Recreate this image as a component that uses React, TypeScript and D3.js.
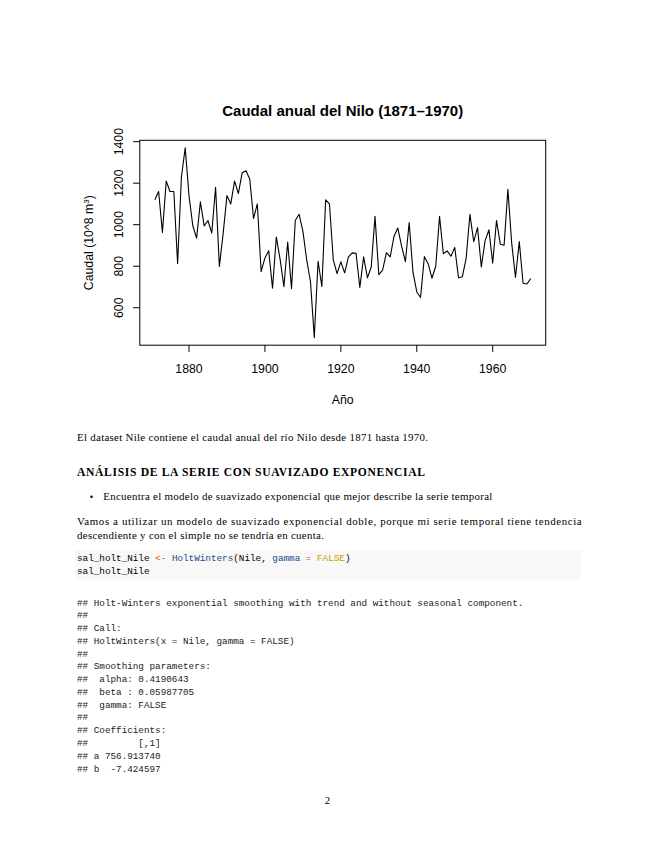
import React from "react";
import * as d3 from "d3";

const startYear = 1871;
const nileFlow = [
  1120, 1160, 963, 1210, 1160, 1160, 813, 1230, 1370, 1140,
  995, 935, 1110, 994, 1020, 960, 1180, 799, 958, 1140,
  1100, 1210, 1150, 1250, 1260, 1220, 1030, 1100, 774, 840,
  874, 694, 940, 833, 701, 916, 692, 1020, 1050, 969,
  831, 726, 456, 824, 702, 1120, 1100, 832, 764, 821,
  768, 845, 864, 862, 698, 845, 744, 796, 1040, 759,
  781, 865, 845, 944, 984, 897, 822, 1010, 771, 676,
  649, 846, 812, 742, 801, 1040, 860, 874, 848, 890,
  744, 749, 838, 1050, 918, 986, 797, 923, 975, 815,
  1020, 906, 901, 1170, 912, 746, 919, 718, 714, 740,
];
const xTicks = [1880, 1900, 1920, 1940, 1960];
const yTicks = [600, 800, 1000, 1200, 1400];

const outputLines = [
  "## Holt-Winters exponential smoothing with trend and without seasonal component.",
  "##",
  "## Call:",
  "## HoltWinters(x = Nile, gamma = FALSE)",
  "##",
  "## Smoothing parameters:",
  "##  alpha: 0.4190643",
  "##  beta : 0.05987705",
  "##  gamma: FALSE",
  "##",
  "## Coefficients:",
  "##         [,1]",
  "## a 756.913740",
  "## b  -7.424597",
];

export default function App() {
  const years = nileFlow.map((_, i) => startYear + i);
  const xMin = d3.min(years)!, xMax = d3.max(years)!;
  const yMin = d3.min(nileFlow)!, yMax = d3.max(nileFlow)!;
  const xPad = (xMax - xMin) * 0.04, yPad = (yMax - yMin) * 0.04;
  const L = 139.8, R = 545.7, T = 140.3, B = 345.2;
  const x = d3.scaleLinear().domain([xMin - xPad, xMax + xPad]).range([L, R]);
  const y = d3.scaleLinear().domain([yMin - yPad, yMax + yPad]).range([B, T]);
  const line = d3.line<number>().x((_, i) => x(years[i])).y((d) => y(d));

  const sans = "'Liberation Sans', Arial, Helvetica, sans-serif";
  const serif = "'Liberation Serif', 'Times New Roman', serif";
  const mono = "'Liberation Mono', 'DejaVu Sans Mono', monospace";
  const tickLen = 6.7;
  const fs = 12.3;
  const bodyFs = 10.9;
  const monoFs = 9.3;

  return (
    <svg width={655} height={848} style={{ position: "absolute", left: 0, top: 0, background: "#fff" }}>
      <rect x={0} y={0} width={655} height={848} fill="#fff" />
      {/* Chart */}
      <text x={(L + R) / 2} y={115.5} textAnchor="middle" fontFamily={sans} fontWeight="bold" fontSize={15} fill="#000">
        Caudal anual del Nilo (1871–1970)
      </text>
      <path d={line(nileFlow) || ""} fill="none" stroke="#000" strokeWidth={1.1} strokeLinejoin="round" />
      <rect x={L} y={T} width={R - L} height={B - T} fill="none" stroke="#000" strokeWidth={1} />
      {xTicks.map((t) => (
        <g key={"x" + t}>
          <line x1={x(t)} x2={x(t)} y1={B} y2={B + tickLen} stroke="#000" strokeWidth={1} />
          <text x={x(t)} y={372.8} textAnchor="middle" fontFamily={sans} fontSize={fs} fill="#000">{t}</text>
        </g>
      ))}
      {yTicks.map((t) => (
        <g key={"y" + t}>
          <line x1={L - tickLen} x2={L} y1={y(t)} y2={y(t)} stroke="#000" strokeWidth={1} />
          <text transform={`translate(122.6,${y(t)}) rotate(-90)`} textAnchor="middle" fontFamily={sans} fontSize={fs} fill="#000">{t}</text>
        </g>
      ))}
      <text x={(L + R) / 2} y={403.6} textAnchor="middle" fontFamily={sans} fontSize={fs} fill="#000">Año</text>
      <text transform={`translate(92.6,${(T + B) / 2}) rotate(-90)`} textAnchor="middle" fontFamily={sans} fontSize={fs} fill="#000">
        Caudal (10^8 m<tspan dy={-4} fontSize={8}>3</tspan><tspan dy={4}>)</tspan>
      </text>

      {/* Text */}
      <text x={77} y={441} fontFamily={serif} fontSize={bodyFs} fill="#000" textLength={351} lengthAdjust="spacing">
        El dataset Nile contiene el caudal anual del río Nilo desde 1871 hasta 1970.
      </text>
      <text x={77} y={475.8} fontFamily={serif} fontWeight="bold" fontSize={11.6} fill="#000" textLength={348} lengthAdjust="spacing">
        ANÁLISIS DE LA SERIE CON SUAVIZADO EXPONENCIAL
      </text>
      <circle cx={91.5} cy={496.8} r={1.3} fill="#000" />
      <text x={103.3} y={500} fontFamily={serif} fontSize={bodyFs} fill="#000" textLength={389} lengthAdjust="spacing">
        Encuentra el modelo de suavizado exponencial que mejor describe la serie temporal
      </text>
      <text x={77} y={525.2} fontFamily={serif} fontSize={bodyFs} fill="#000" textLength={504.7} lengthAdjust="spacing">
        Vamos a utilizar un modelo de suavizado exponencial doble, porque mi serie temporal tiene tendencia
      </text>
      <text x={77} y={538.6} fontFamily={serif} fontSize={bodyFs} fill="#000" textLength={247} lengthAdjust="spacing">
        descendiente y con el simple no se tendría en cuenta.
      </text>

      {/* Code block */}
      <rect x={75} y={550} width={506.5} height={29.5} fill="#f8f8f8" />
      <text x={77} y={561} fontFamily={mono} fontSize={monoFs} fill="#000" style={{ whiteSpace: "pre" }}>
        <tspan>sal_holt_Nile </tspan>
        <tspan fill="#ce5c00">&lt;-</tspan>
        <tspan> </tspan>
        <tspan fill="#204a87">HoltWinters</tspan>
        <tspan>(Nile, </tspan>
        <tspan fill="#204a87">gamma</tspan>
        <tspan> </tspan>
        <tspan fill="#ce5c00">=</tspan>
        <tspan> </tspan>
        <tspan fill="#c4a000">FALSE</tspan>
        <tspan>)</tspan>
      </text>
      <text x={77} y={573.9} fontFamily={mono} fontSize={monoFs} fill="#000" style={{ whiteSpace: "pre" }}>
        sal_holt_Nile
      </text>

      {/* Output */}
      {outputLines.map((ln, i) => (
        <text key={"o" + i} x={77} y={605.5 + i * 12.77} fontFamily={mono} fontSize={monoFs} fill="#222" style={{ whiteSpace: "pre" }}>
          {ln}
        </text>
      ))}

      <text x={327.5} y={804} textAnchor="middle" fontFamily={serif} fontSize={bodyFs} fill="#000">2</text>
    </svg>
  );
}
